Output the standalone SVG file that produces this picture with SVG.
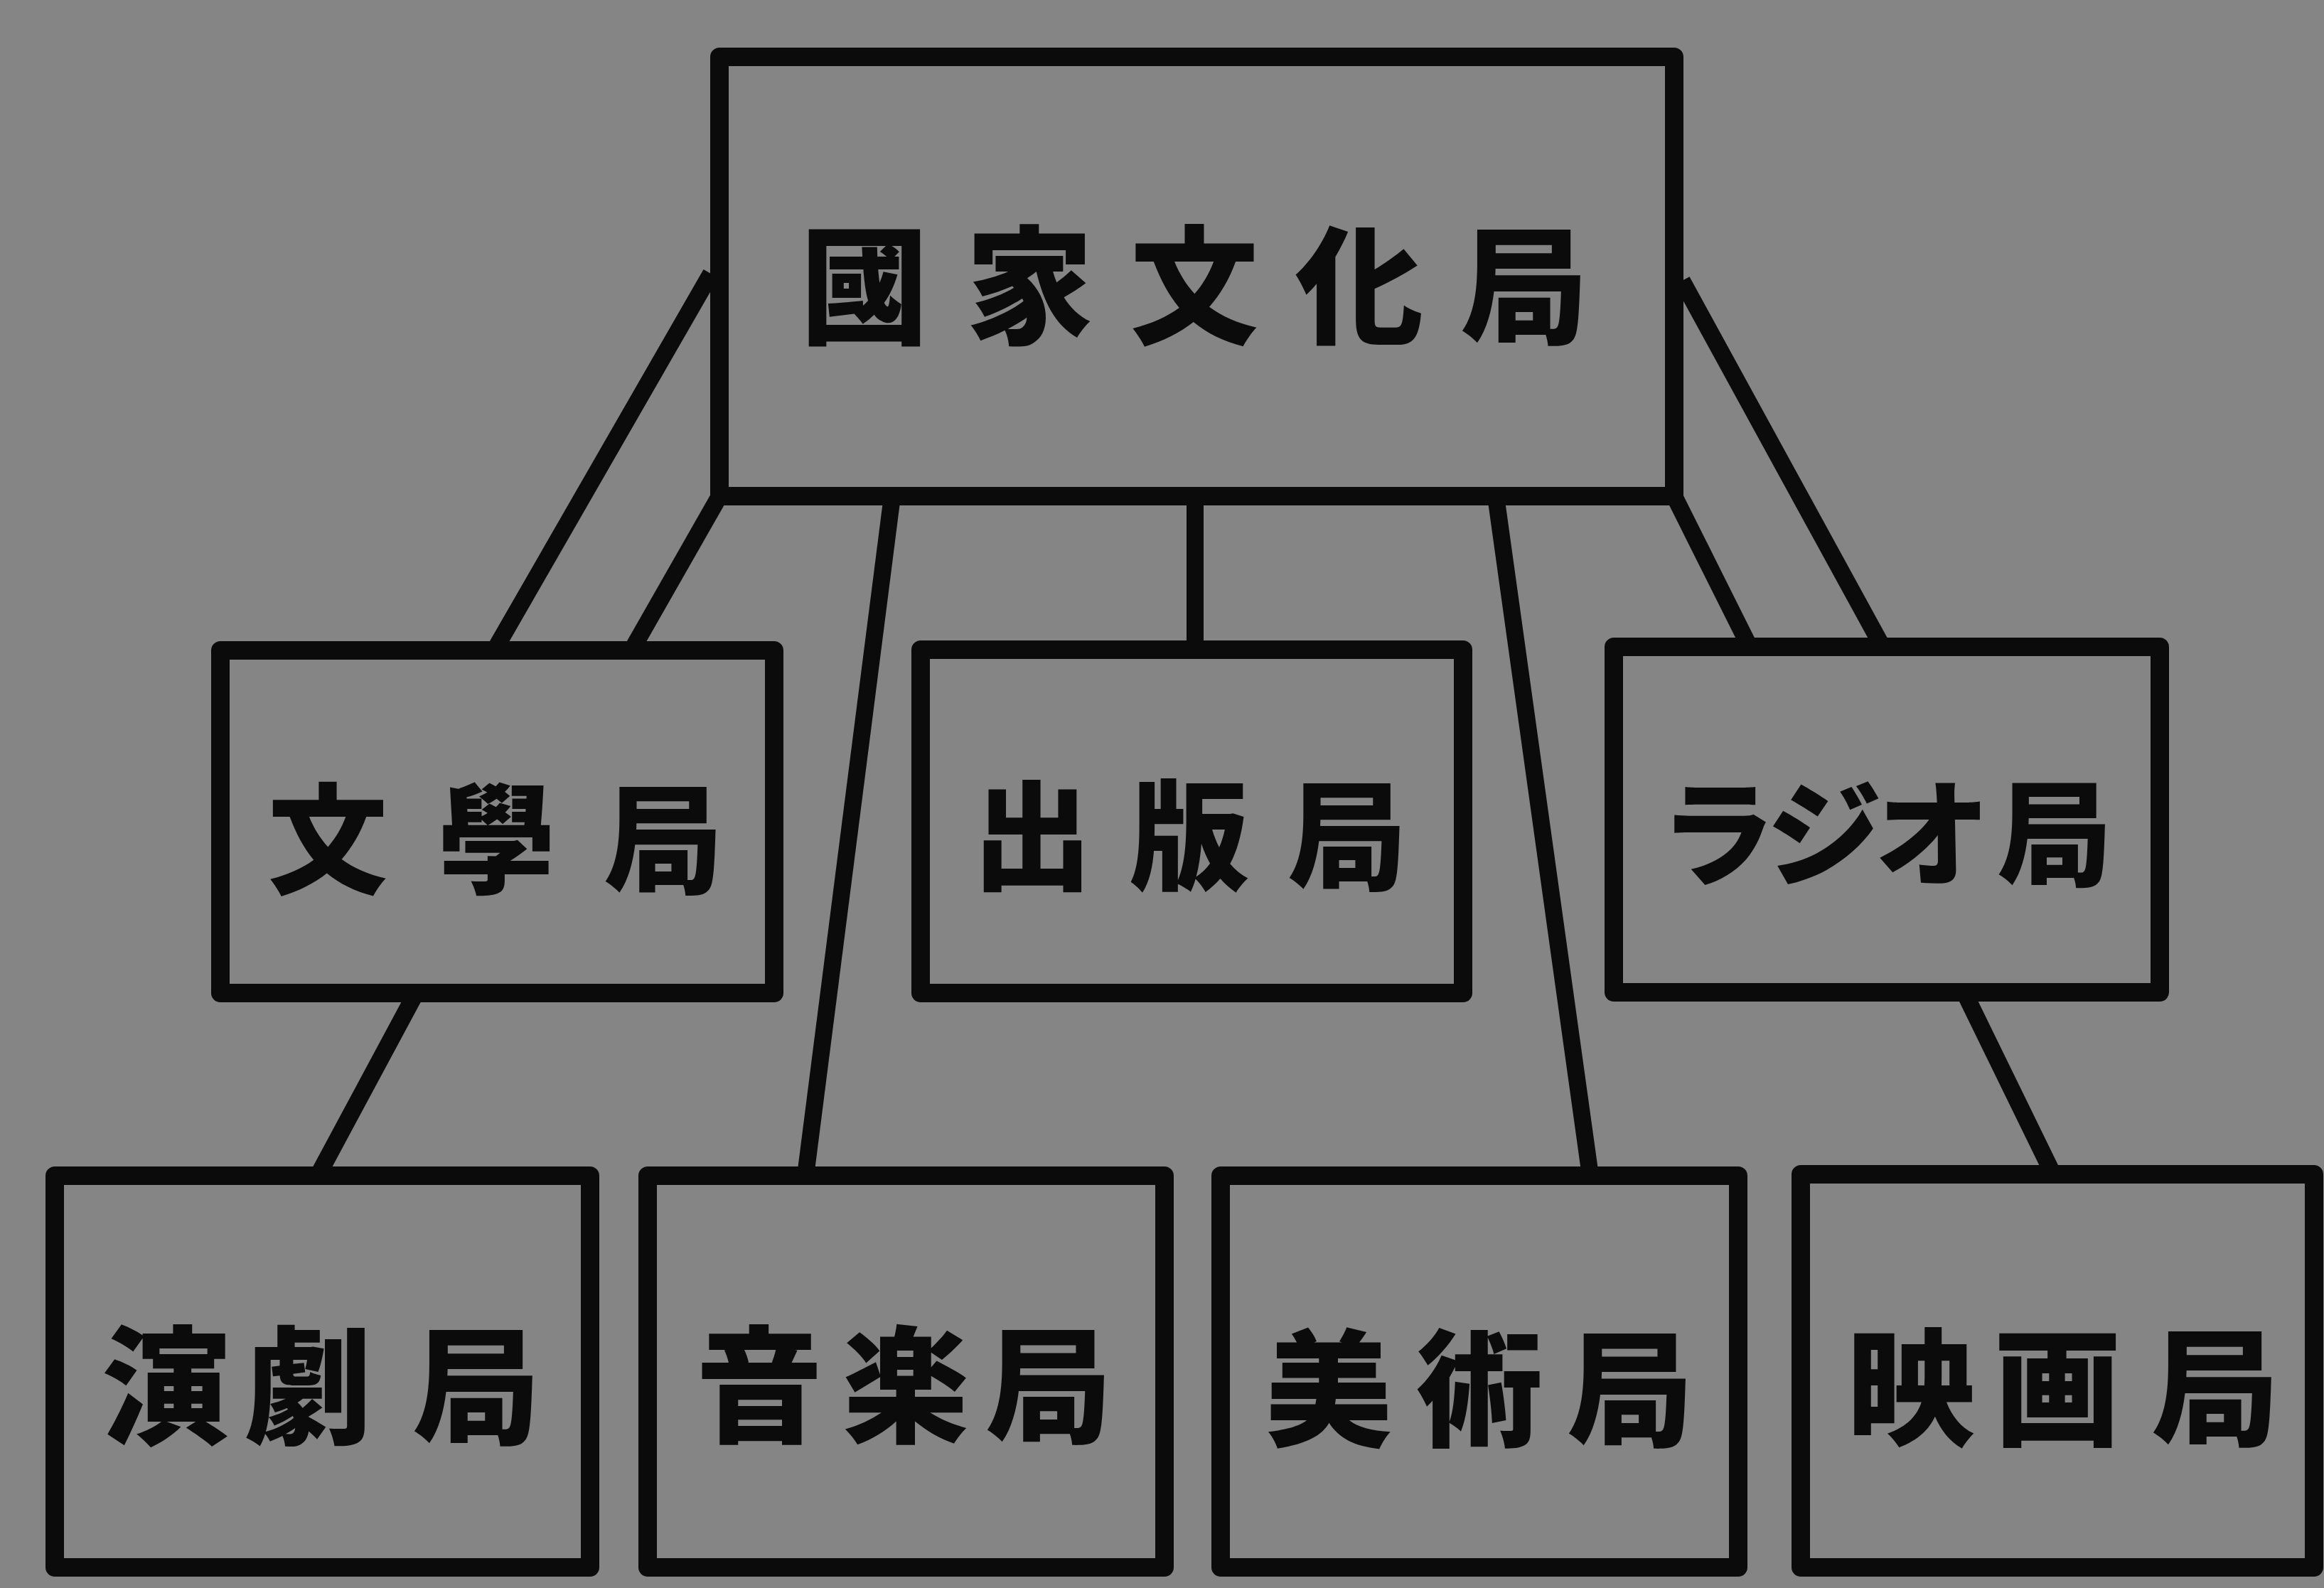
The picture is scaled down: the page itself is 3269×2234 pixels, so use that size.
<svg xmlns="http://www.w3.org/2000/svg" width="3269" height="2234" viewBox="0 0 3269 2234">
<style>
.box{fill:#858585;stroke:#0b0b0b;stroke-width:26;stroke-linejoin:round}
.con{stroke:#0b0b0b;stroke-width:24;stroke-linecap:butt;fill:none}
.lbl{font-family:"Noto Sans CJK JP","Noto Sans CJK TC",sans-serif;font-weight:900;fill:#0b0b0b;text-anchor:middle;dominant-baseline:central}
</style>
<rect x="0" y="0" width="3269" height="2234" fill="#858585"/>
<g id="connectors">
<line class="con" x1="1000" y1="385" x2="697" y2="912"/>
<line class="con" x1="1012" y1="698" x2="890" y2="912"/>
<line class="con" x1="1255" y1="698" x2="1133" y2="1654"/>
<line class="con" x1="1681" y1="698" x2="1681" y2="914"/>
<line class="con" x1="2104" y1="698" x2="2237" y2="1654"/>
<line class="con" x1="2355" y1="698" x2="2461" y2="910"/>
<line class="con" x1="2366" y1="395" x2="2648" y2="910"/>
<line class="con" x1="585" y1="1397" x2="447" y2="1654"/>
<line class="con" x1="2763" y1="1396" x2="2888" y2="1652"/>
</g>
<g id="n-kokka">
<rect class="box" x="1012" y="80" width="1343" height="618"/>
<text class="lbl" font-size="180" y="390" x="1216 1448 1680 1912 2144">國家文化局</text>
</g>
<g id="n-bungaku">
<rect class="box" x="310" y="915" width="779" height="482"/>
<text class="lbl" font-size="168" y="1170" x="461 698 933">文學局</text>
</g>
<g id="n-shuppan">
<rect class="box" x="1295" y="914" width="763" height="483"/>
<text class="lbl" font-size="168" y="1165" x="1452 1673 1895">出版局</text>
</g>
<g id="n-radio">
<rect class="box" x="2270" y="910" width="768" height="486"/>
<text class="lbl" font-size="162" y="1163" x="2416 2566 2718 2890">ラジオ局</text>
</g>
<g id="n-engeki">
<rect class="box" x="77" y="1654" width="753" height="551"/>
<text class="lbl" font-size="180" y="1938" x="233 434 670">演劇局</text>
</g>
<g id="n-ongaku">
<rect class="box" x="911" y="1654" width="727" height="551"/>
<text class="lbl" font-size="178" y="1938" x="1068 1274 1475">音楽局</text>
</g>
<g id="n-bijutsu">
<rect class="box" x="1717" y="1654" width="728" height="551"/>
<text class="lbl" font-size="178" y="1943" x="1869 2081 2293">美術局</text>
</g>
<g id="n-eiga">
<rect class="box" x="2533" y="1652" width="722" height="553"/>
<text class="lbl" font-size="180" y="1940" x="2688 2894 3116">映画局</text>
</g>
</svg>
